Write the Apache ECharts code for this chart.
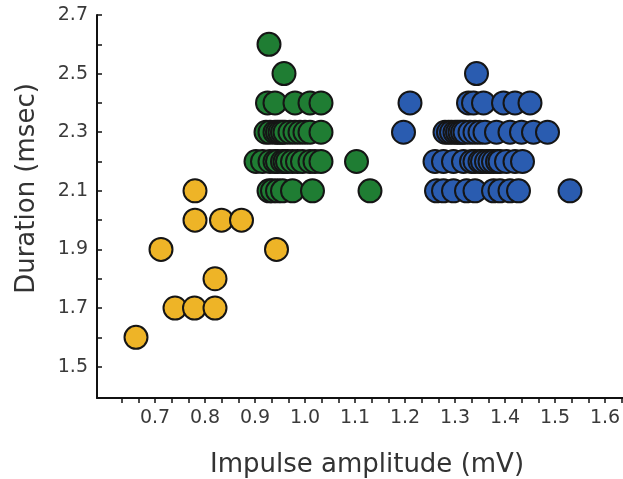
<!DOCTYPE html>
<html>
<head>
<meta charset="utf-8">
<script src="https://cdn.jsdelivr.net/npm/echarts@6/dist/echarts.min.js"></script>
<style>
  html, body { margin: 0; padding: 0; background: #fff; }
  #chart { width: 623px; height: 479px; }
</style>
</head>
<body>
<div id="chart"></div>
<script>
// Impulse amplitude (mV) vs duration (msec), three clusters of recordings.

// Low-amplitude cluster (yellow)
const lowAmp = [0.662, 0.74, 0.779, 0.82, 0.82, 0.712, 0.943, 0.78, 0.833, 0.873, 0.78];
const lowDur = [1.6, 1.7, 1.7, 1.7, 1.8, 1.9, 1.9, 2.0, 2.0, 2.0, 2.1];

// Mid-amplitude cluster (green)
const midAmp = [
  0.928, 0.935, 0.945, 0.955, 0.975, 1.015, 1.13,
  0.902, 0.915, 0.93, 0.94, 0.945, 0.955, 0.96, 0.965, 0.975, 0.985, 0.995, 1.01, 1.02, 1.032, 1.103,
  0.922, 0.93, 0.94, 0.945, 0.95, 0.955, 0.96, 0.97, 0.98, 0.99, 1.0, 1.01, 1.032,
  0.925, 0.94, 0.98, 1.01, 1.032,
  0.958,
  0.928
];
const midDur = [
  2.1, 2.1, 2.1, 2.1, 2.1, 2.1, 2.1,
  2.2, 2.2, 2.2, 2.2, 2.2, 2.2, 2.2, 2.2, 2.2, 2.2, 2.2, 2.2, 2.2, 2.2, 2.2,
  2.3, 2.3, 2.3, 2.3, 2.3, 2.3, 2.3, 2.3, 2.3, 2.3, 2.3, 2.3, 2.3,
  2.4, 2.4, 2.4, 2.4, 2.4,
  2.5,
  2.6
];

// High-amplitude cluster (blue)
const highAmp = [
  1.263, 1.277, 1.297, 1.323, 1.34, 1.377, 1.39, 1.41, 1.427, 1.53,
  1.26, 1.277, 1.297, 1.317, 1.333, 1.34, 1.35, 1.355, 1.363, 1.37, 1.377, 1.385, 1.39, 1.403, 1.42, 1.435,
  1.197, 1.28, 1.287, 1.293, 1.3, 1.305, 1.31, 1.315, 1.32, 1.33, 1.34, 1.35, 1.36, 1.383, 1.41, 1.433, 1.457, 1.485,
  1.21, 1.327, 1.337, 1.357, 1.397, 1.42, 1.45,
  1.343
];
const highDur = [
  2.1, 2.1, 2.1, 2.1, 2.1, 2.1, 2.1, 2.1, 2.1, 2.1,
  2.2, 2.2, 2.2, 2.2, 2.2, 2.2, 2.2, 2.2, 2.2, 2.2, 2.2, 2.2, 2.2, 2.2, 2.2, 2.2,
  2.3, 2.3, 2.3, 2.3, 2.3, 2.3, 2.3, 2.3, 2.3, 2.3, 2.3, 2.3, 2.3, 2.3, 2.3, 2.3, 2.3, 2.3,
  2.4, 2.4, 2.4, 2.4, 2.4, 2.4, 2.4,
  2.5
];

// Axis labels and tick positions
const xLabels = [0.7, 0.8, 0.9, 1.0, 1.1, 1.2, 1.3, 1.4, 1.5, 1.6];
const yLabels = [1.5, 1.7, 1.9, 2.1, 2.3, 2.5, 2.7];
const yTicks = [1.5, 1.6, 1.7, 1.8, 1.9, 2.0, 2.1, 2.2, 2.3, 2.4, 2.5, 2.6, 2.7];
const xTicks = [];
for (let k = 19; k <= 49; k++) xTicks.push(+(k / 30).toFixed(4));

function points(xs, ys) {
  // left-to-right so that each circle overlaps its left neighbour
  return xs.map((x, i) => [x, ys[i]]).sort((a, b) => a[0] - b[0]);
}

const labelFont = { fontFamily: 'DejaVu Sans', fontSize: 19, color: '#3a3a3a' };
const titleFont = { fontFamily: 'DejaVu Sans', fontSize: 26, color: '#333' };

const markerStyle = (fill) => ({
  color: fill,
  borderColor: '#151515',
  borderWidth: 2,
  opacity: 1
});

const chart = echarts.init(document.getElementById('chart'), null, { renderer: 'canvas' });
chart.setOption({
  animation: false,
  backgroundColor: '#ffffff',
  grid: { left: 97, right: 0, top: 15, bottom: 81, containLabel: false, outerBoundsMode: 'none' },
  xAxis: {
    type: 'value',
    min: 0.584,
    max: 1.636,
    name: 'Impulse amplitude (mV)',
    nameLocation: 'middle',
    nameGap: 54,
    nameTextStyle: Object.assign({ padding: [0, 0, 0, 14] }, titleFont),
    axisLine: { show: true, onZero: false, lineStyle: { color: '#111', width: 2 } },
    axisTick: { show: true, inside: false, length: 5, customValues: xTicks, lineStyle: { color: '#111', width: 1.5 } },
    axisLabel: Object.assign({
      customValues: xLabels,
      margin: 11,
      formatter: (v) => v.toFixed(1)
    }, labelFont),
    splitLine: { show: false }
  },
  yAxis: {
    type: 'value',
    min: 1.393,
    max: 2.7,
    name: 'Duration (msec)',
    nameLocation: 'middle',
    nameGap: 57,
    nameTextStyle: Object.assign({ padding: [0, 0, 0, 36] }, titleFont),
    axisLine: { show: true, onZero: false, lineStyle: { color: '#111', width: 2 } },
    axisTick: { show: true, inside: true, length: 5, customValues: yTicks, lineStyle: { color: '#111', width: 1.5 } },
    axisLabel: Object.assign({
      customValues: yLabels,
      margin: 9,
      formatter: (v) => v.toFixed(1)
    }, labelFont),
    splitLine: { show: false }
  },
  series: [
    {
      type: 'scatter', name: 'low', symbol: 'circle', symbolSize: 23, clip: false,
      itemStyle: markerStyle('#EEB427'),
      data: points(lowAmp, lowDur)
    },
    {
      type: 'scatter', name: 'mid', symbol: 'circle', symbolSize: 23, clip: false,
      itemStyle: markerStyle('#1F7D33'),
      data: points(midAmp, midDur)
    },
    {
      type: 'scatter', name: 'high', symbol: 'circle', symbolSize: 23, clip: false,
      itemStyle: markerStyle('#2A5CB0'),
      data: points(highAmp, highDur)
    }
  ]
});
</script>
</body>
</html>
